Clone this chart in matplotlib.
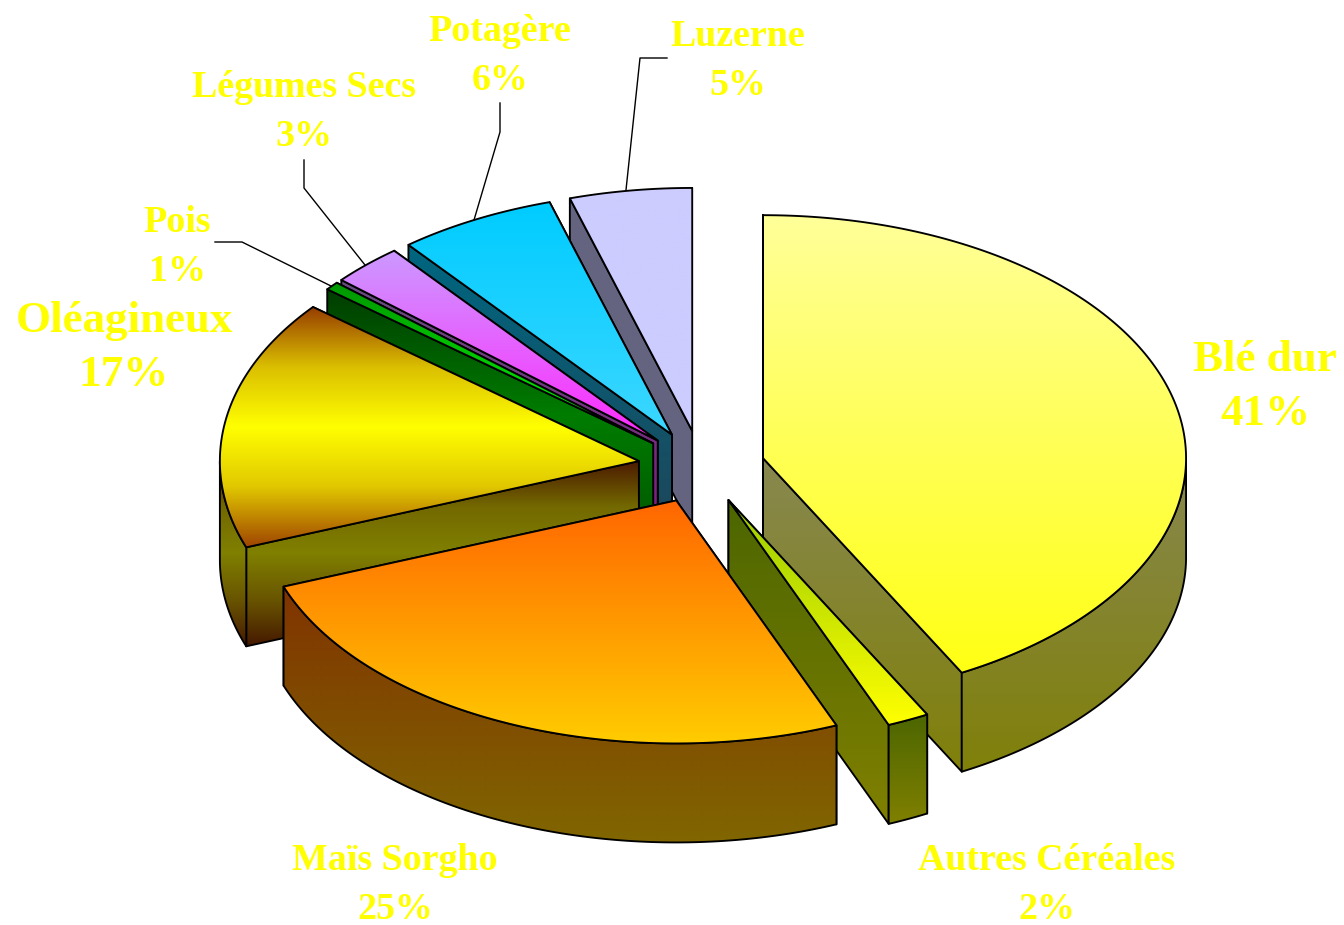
import numpy as np
import matplotlib
matplotlib.use("Agg")
import matplotlib.pyplot as plt
from matplotlib.patches import Polygon

# ---- data (back to front, counter-clockwise from 12 o'clock) ----
categories = ["Luzerne", "Potagère", "Légumes Secs", "Pois", "Oléagineux",
              "Maïs Sorgho", "Autres Céréales", "Blé dur"]
shares = [4.67, 6.05, 2.78, 0.56, 16.7, 25.4, 1.6, 42.2]
pct_labels = ["5%", "6%", "3%", "1%", "17%", "25%", "2%", "41%"]

# ---- colours ----
top_colors = {
    "Luzerne": [(204, 204, 255), (204, 204, 255)],
    "Potagère": [(0, 204, 255), (60, 215, 255)],
    "Légumes Secs": [(204, 153, 255), (255, 40, 255)],
    "Pois": [(0, 150, 0), (0, 255, 0)],
    "Oléagineux": [(150, 60, 0), (218, 190, 0), (255, 255, 0), (225, 200, 0), (160, 70, 0)],
    "Maïs Sorgho": [(255, 102, 0), (255, 204, 0)],
    "Autres Céréales": [(153, 204, 0), (255, 255, 0)],
    "Blé dur": [(255, 255, 153), (255, 255, 20)],
}
wall_colors = {
    "Luzerne": [(100, 100, 128), (100, 100, 128)],
    "Potagère": [(0, 102, 128), (30, 70, 90)],
    "Légumes Secs": [(102, 76, 128), (128, 25, 128)],
    "Pois": [(0, 60, 0), (0, 125, 0), (0, 85, 0)],
    "Oléagineux": [(75, 25, 0), (115, 105, 0), (128, 128, 0), (105, 85, 0), (70, 25, 0)],
    "Maïs Sorgho": [(128, 51, 0), (128, 102, 0)],
    "Autres Céréales": [(76, 102, 0), (128, 128, 0)],
    "Blé dur": [(136, 136, 80), (128, 128, 10)],
}

# ---- layout (pixels) ----
W, H = 1344, 925
CX, CY = 701.5, 467
RX, RY = 423, 243
LEFT_SHRINK = 4
DEPTH = 99
EXPLODE = 0.15
draw_order = ["Luzerne", "Potagère", "Légumes Secs", "Pois", "Oléagineux",
              "Blé dur", "Autres Céréales", "Maïs Sorgho"]
label_style = {  # centre x, centre y, font size, line spacing
    "Luzerne": (738, 61, 27.3, 1.49),
    "Potagère": (500, 56, 27.3, 1.49),
    "Légumes Secs": (304, 112, 27.3, 1.49),
    "Pois": (177, 247, 27.3, 1.49),
    "Oléagineux": (124, 348, 32.4, 1.46),
    "Maïs Sorgho": (395, 885, 27.3, 1.49),
    "Autres Céréales": (1047, 885, 27.3, 1.49),
    "Blé dur": (1265, 387, 32.4, 1.46),
}
leaders = [
    [(667, 58), (640, 58), (626, 190)],
    [(500, 103), (500, 132), (474, 220)],
    [(304, 160), (304, 188), (365, 265)],
    [(215, 242), (242, 242), (331, 286)],
]

fig = plt.figure(figsize=(W / 100, H / 100), dpi=100, facecolor="white")
ax = fig.add_axes([0, 0, 1, 1])
ax.axis("off")


def gradient(pts, stops, zorder):
    """Vertical gradient clipped to a black-edged polygon."""
    pts = np.asarray(pts)
    y0, y1 = pts[:, 1].min(), pts[:, 1].max()
    x0, x1 = pts[:, 0].min(), pts[:, 0].max()
    stops = np.asarray(stops, float) / 255
    t = np.linspace(0, 1, 256)
    s = np.linspace(0, 1, len(stops))
    img = np.stack([np.interp(t, s, stops[:, c]) for c in range(3)], axis=1)[:, None, :]
    poly = Polygon(pts, closed=True, facecolor="none", edgecolor="black",
                   linewidth=1.35, joinstyle="round", zorder=zorder + 0.5)
    ax.add_patch(poly)
    im = ax.imshow(img, extent=(x0, max(x1, x0 + 1), y1, y0), aspect="auto",
                   interpolation="bilinear", zorder=zorder)
    im.set_clip_path(poly.get_path(), poly.get_transform())


total = sum(shares)
bounds = np.concatenate([[0], np.cumsum(shares)]) / total * 360
angle = {c: (bounds[i], bounds[i + 1]) for i, c in enumerate(categories)}

z = 1
for name in draw_order:
    a0, a1 = angle[name]
    mid = np.radians((a0 + a1) / 2)
    ax_x = CX - EXPLODE * RX * np.sin(mid)
    ax_y = CY - EXPLODE * RY * np.cos(mid)

    def arc(b0, b1):
        th = np.radians(np.linspace(b0, b1, 180))
        s = np.sin(th)
        rx = RX - LEFT_SHRINK * np.clip(s, 0, 1) ** 4
        return np.column_stack([ax_x - rx * s, ax_y - RY * np.cos(th)])

    apex = np.array([ax_x, ax_y])
    down = np.array([0, DEPTH])
    outer = arc(a0, a1)

    # radial side faces: the one lower on screen faces the viewer, draw it last
    for edge in sorted((outer[0], outer[-1]), key=lambda p: p[1]):
        pts = [apex, edge, edge + down, apex + down]
        gradient(pts, wall_colors[name], z)
        z += 1
    # outer rim (only the part facing the viewer)
    f0, f1 = max(a0, 90), min(a1, 270)
    if f1 > f0:
        rim = arc(f0, f1)
        pts = np.vstack([rim, (rim + down)[::-1]])
        gradient(pts, wall_colors[name], z)
        z += 1
    # top face
    pts = np.vstack([[apex], outer])
    gradient(pts, top_colors[name], z)
    z += 1

for line in leaders:
    xs, ys = zip(*line)
    ax.plot(xs, ys, color="black", lw=1.0, zorder=z)

for name, pct in zip(categories, pct_labels):
    x, y, size, spacing = label_style[name]
    ax.text(x, y, f"{name}\n{pct}", ha="center", va="center", ma="center",
            color="#FFFF00", fontsize=size, fontweight="bold",
            family="Liberation Serif", linespacing=spacing, zorder=z + 1)

ax.set_xlim(0, W)
ax.set_ylim(H, 0)
fig.savefig("out.png", dpi=100, facecolor="white")
